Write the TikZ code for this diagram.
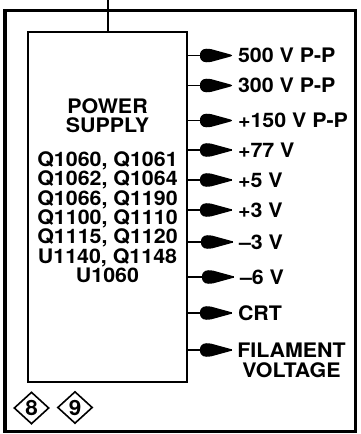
\documentclass[tikz,border=0pt]{standalone}
\usepackage{fontspec}
\setmainfont{TeX Gyre Heros}
\newfontfamily\labfont[FakeStretch=1.07]{TeX Gyre Heros Bold}
\usetikzlibrary{shapes.geometric}
\begin{document}
\begin{tikzpicture}[x=1pt,y=-1pt,
  lab/.style={font=\labfont\fontsize{20}{19.3}\selectfont, inner sep=0pt, outer xsep=6pt, outer ysep=0pt, anchor=west},
  outline/.style={line width=1.5pt},
  bullet/.pic={\fill (0,0) -- (-1,-0.9) -- (-21,-6.4)
      .. controls (-27,-7.3) and (-32,-7) .. (-32,0)
      .. controls (-32,7) and (-27,7.3) .. (-21,6.4)
      -- (-1,0.9) -- cycle;},
  tag/.style={shape=diamond, draw, line width=1.6pt, minimum width=35pt, minimum height=32pt, inner sep=0pt, font=\labfont\fontsize{21}{21}\selectfont}]
\useasboundingbox (0,0) rectangle (360,434);
% outer frame
\draw[line width=3.5pt] (5,10.5) rectangle (355.5,431.5);
% inner box
\node[draw, line width=2pt, minimum width=158.7pt, minimum height=349.5pt, inner sep=0pt, outer sep=0pt] (ps) at (107.35,206.75) {};
\coordinate (in) at (108,0);
\draw[line width=1.6pt] (in) -- (in |- ps.north);
\node[font=\labfont\fontsize{20}{19.3}\selectfont, align=center, inner sep=0pt, anchor=north] (pstext) at (107.5,98)
  {POWER\\SUPPLY\\[15pt]Q1060, Q1061\\Q1062, Q1064\\Q1066, Q1190\\Q1100, Q1110\\Q1115, Q1120\\U1140, Q1148\\U1060};
% outputs
\node[lab] (l1) at (232,55.5) {500 V P-P};
\node[lab] (l2) at (232,85.5) {300 V P-P};
\node[lab] (l3) at (232,120.5) {+150 V P-P};
\node[lab] (l4) at (232,150) {+77 V};
\node[lab] (l5) at (232,180) {+5 V};
\node[lab] (l6) at (232,210) {+3 V};
\node[lab] (l7) at (233,242) {–3 V};
\node[lab] (l8) at (234,277) {–6 V};
\node[lab] (l9) at (232,313) {CRT};
\coordinate (t10) at (232,350);
\node[font=\labfont\fontsize{20}{19.3}\selectfont, align=center, inner sep=0pt, anchor=north] (l10) at (291.5,343) {FILAMENT\\VOLTAGE};
\foreach \n in {1,...,9} {
  \draw[outline] (ps.east |- l\n) -- (l\n.west);
  \pic at (l\n.west) {bullet};
}
\draw[outline] (ps.east |- t10) -- (t10);
\pic at (t10) {bullet};
% tags
\node[tag] (d8) at (31.5,408) {8};
\node[tag] (d9) at (75,407.5) {9};
\end{tikzpicture}
\end{document}
